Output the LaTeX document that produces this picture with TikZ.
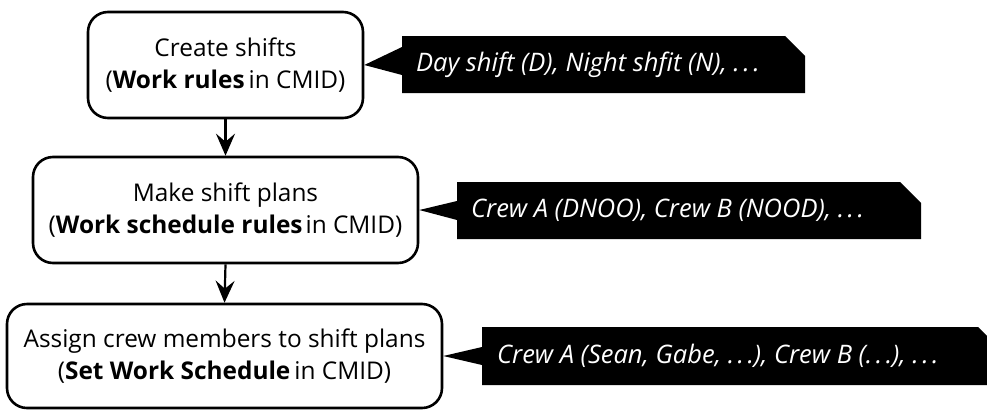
\documentclass[tikz,border=0pt]{standalone}
\usepackage{fontspec}
\setmainfont{Open Sans}
\usetikzlibrary{arrows.meta}
% spaced ellipsis used in the example notes
\newcommand{\etcdots}{.\hspace{3.5pt}.\hspace{3.5pt}.}
\begin{document}
\begin{tikzpicture}[x=1pt,y=-1pt,
  stepbox/.style={draw, line width=2.6pt, rounded corners=20pt, align=center,
    inner sep=0pt, font=\fontsize{24.4}{32}\selectfont},
  flow/.style={line width=2.2pt, -{Stealth[length=22pt,width=19pt,inset=8pt]}},
  notefill/.style={fill=black},
  notetext/.style={text=white, inner sep=0pt, anchor=west,
    font=\fontsize{25.5}{28}\selectfont\itshape}]
\useasboundingbox (0,0) rectangle (987,410);
\clip (0,0) rectangle (987,410);

% process steps
\node[stepbox, minimum width=275pt, minimum height=106pt] (b1) at (225.5,65)
  {Create shifts\\(\textbf{Work rules}\hspace{4pt}in CMID)};
\node[stepbox, minimum width=385pt, minimum height=106pt] (b2) at (225.5,210)
  {Make shift plans\\(\textbf{Work schedule rules}\hspace{3pt}in CMID)};
\node[stepbox, minimum width=435pt, minimum height=104pt] (b3) at (224.5,356)
  {Assign crew members to shift plans\\(\textbf{Set Work Schedule}\hspace{4pt}in CMID)};

\draw[flow] (b1.south) -- (b2.north);
\draw[flow] (b2.south) -- (b3.north);

% example notes with a pointer to each step
\fill[notefill] (402,36) -- (785,36) -- (805,56) -- (805,93) -- (402,93)
  -- (402,75) -- (b1.east) -- (402,47) -- cycle;
\node[notetext] (n1) at (416,64.5) {Day shift (D), Night shfit (N), \etcdots};

\fill[notefill] (457,182) -- (900,182) -- (921,203) -- (921,239) -- (457,239)
  -- (457,220) -- (b2.east) -- (457,201) -- cycle;
\node[notetext] (n2) at (471,210.5) {Crew A (DNOO), Crew B (NOOD), \etcdots};

\fill[notefill] (482,327) -- (978,327) -- (998,347) -- (998,385) -- (482,385)
  -- (482,365) -- (b3.east) -- (482,347) -- cycle;
\node[notetext] (n3) at (497,356) {Crew A (Sean, Gabe, \etcdots), Crew B (\etcdots), \etcdots};
\end{tikzpicture}
\end{document}
